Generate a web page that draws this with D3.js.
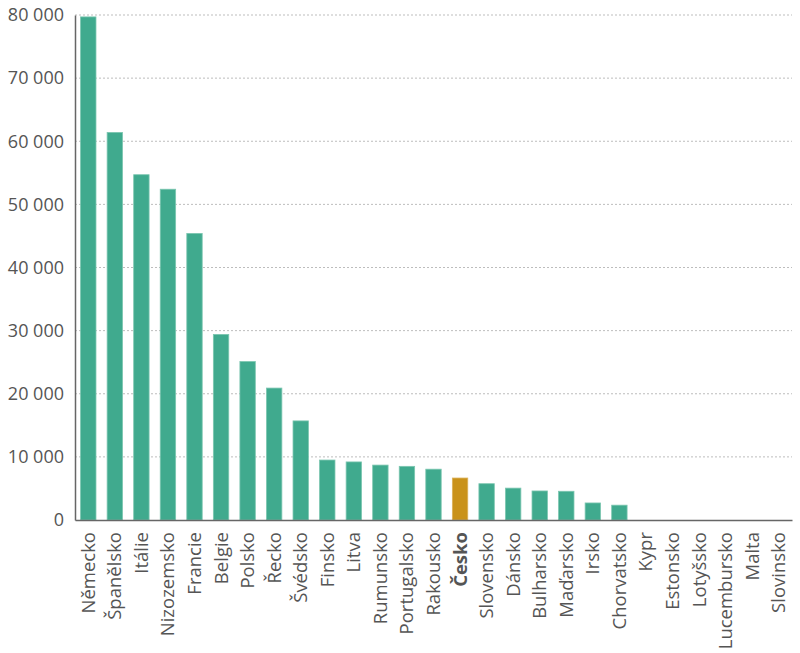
<!DOCTYPE html>
<html>
<head>
<meta charset="utf-8">
<script src="https://cdn.jsdelivr.net/npm/d3@7"></script>
<style>
  body { margin: 0; background: #fff; }
  svg text { font-family: "Open Sans", "Noto Sans", sans-serif; }
</style>
</head>
<body>
<div id="chart"></div>
<script>
// Data
const countries = ["Německo", "Španělsko", "Itálie", "Nizozemsko", "Francie", "Belgie", "Polsko",
  "Řecko", "Švédsko", "Finsko", "Litva", "Rumunsko", "Portugalsko", "Rakousko", "Česko",
  "Slovensko", "Dánsko", "Bulharsko", "Maďarsko", "Irsko", "Chorvatsko", "Kypr", "Estonsko",
  "Lotyšsko", "Lucembursko", "Malta", "Slovinsko"];
const values = [79700, 61400, 54700, 52400, 45400, 29400, 25100,
  20900, 15700, 9500, 9200, 8700, 8500, 8050, 6650,
  5750, 5050, 4600, 4550, 2700, 2350, 0, 0,
  0, 0, 0, 0];
const yTicks = [0, 10000, 20000, 30000, 40000, 50000, 60000, 70000, 80000];
const highlight = "Česko";

const data = countries.map((c, i) => ({country: c, value: values[i]}));

const W = 800, H = 653;
const margin = {top: 15, right: 8, bottom: 133, left: 75};
const width = W - margin.left - margin.right;
const height = H - margin.top - margin.bottom;

const svg = d3.select("#chart").append("svg")
  .attr("width", W)
  .attr("height", H)
  .append("g")
  .attr("transform", `translate(${margin.left}, ${margin.top})`);

const x = d3.scaleBand()
  .domain(countries)
  .range([0, width])
  .paddingInner(0.42)
  .paddingOuter(0.21);

const y = d3.scaleLinear()
  .domain([0, 80000])
  .range([height, 0]);

const fmt = v => d3.format(",")(v).replace(/,/g, " ");

// gridlines
svg.append("g")
  .selectAll("line")
  .data(yTicks.filter(t => t > 0))
  .enter()
  .append("line")
  .attr("x1", 0)
  .attr("x2", width)
  .attr("y1", d => y(d))
  .attr("y2", d => y(d))
  .attr("stroke", "#bdbdbd")
  .attr("stroke-width", 1)
  .attr("stroke-dasharray", "2,2");

// bars
svg.selectAll("rect.bar")
  .data(data)
  .enter()
  .append("rect")
  .attr("class", "bar")
  .attr("x", d => x(d.country))
  .attr("y", d => y(d.value))
  .attr("width", x.bandwidth())
  .attr("height", d => height - y(d.value))
  .attr("fill", d => d.country === highlight ? "#c9921a" : "#40aa8e")
  .attr("stroke", d => d.country === highlight ? "#dcb25a" : "#7cc6b0")
  .attr("stroke-width", d => d.value > 0 ? 0.8 : 0);

// y axis
const yAxis = svg.append("g")
  .call(d3.axisLeft(y).tickValues(yTicks).tickFormat(fmt).tickSize(0).tickPadding(11));
yAxis.select(".domain").attr("stroke", "#666").attr("stroke-width", 1.5);
yAxis.selectAll("text")
  .style("font-size", "18px")
  .style("fill", "#555");

// x axis
const xAxis = svg.append("g")
  .attr("transform", `translate(0, ${height})`)
  .call(d3.axisBottom(x).tickSize(0).tickPadding(0));
xAxis.select(".domain").attr("stroke", "#666").attr("stroke-width", 1.5);
xAxis.selectAll("text")
  .attr("transform", "rotate(-90)")
  .attr("text-anchor", "end")
  .attr("x", -12)
  .attr("y", 0)
  .attr("dy", "0.35em")
  .style("font-size", "18.5px")
  .style("fill", "#555")
  .style("font-weight", d => d === highlight ? "bold" : "normal");
</script>
</body>
</html>
